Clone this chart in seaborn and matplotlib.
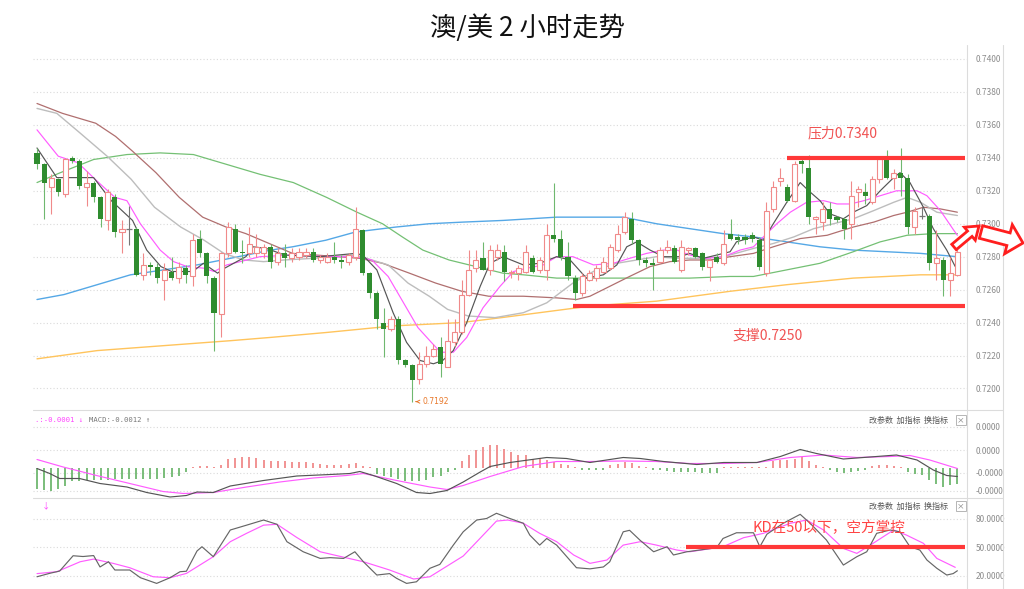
"""澳/美 2 小时走势 — K 线 + 均线 + MACD + KD，复刻截图。"""
import numpy as np
import matplotlib
matplotlib.use("Agg")
import matplotlib.pyplot as plt
import seaborn as sns
from matplotlib.lines import Line2D
from matplotlib.patches import FancyArrow
from matplotlib.transforms import IdentityTransform

PIP = 1e-4  # 价格单位：点

# --- K 线（点）---
open_p = [7343, 7336, 7322, 7327, 7318, 7340, 7338, 7322, 7325, 7316,
          7302, 7316, 7295, 7297, 7297, 7269, 7275, 7274, 7266, 7271,
          7267, 7273, 7268, 7291, 7282, 7267, 7245, 7282, 7297, 7283,
          7282, 7282, 7282, 7286, 7277, 7282, 7279, 7280, 7281, 7283,
          7278, 7277, 7280, 7278, 7277, 7280, 7296, 7270, 7258, 7240,
          7236, 7242, 7217, 7214, 7206, 7215, 7220, 7225, 7213, 7228,
          7234, 7257, 7273, 7279, 7272, 7280, 7283, 7270, 7270, 7271,
          7279, 7272, 7272, 7293, 7291, 7280, 7267, 7258, 7266, 7267,
          7271, 7273, 7284, 7295, 7303, 7290, 7278, 7276, 7277, 7284,
          7285, 7272, 7284, 7285, 7282, 7274, 7280, 7276, 7294, 7292,
          7292, 7293, 7290, 7270, 7309, 7326, 7322, 7314, 7338, 7334,
          7303, 7301, 7309, 7304, 7303, 7300, 7319, 7319, 7313, 7327,
          7340, 7328, 7331, 7328, 7298, 7305, 7305, 7276, 7278, 7266,
          7269]
high_p = [7346, 7337, 7330, 7328, 7340, 7341, 7339, 7332, 7326, 7317,
          7321, 7318, 7302, 7311, 7298, 7282, 7277, 7276, 7276, 7280,
          7277, 7275, 7294, 7296, 7283, 7268, 7283, 7301, 7300, 7290,
          7298, 7294, 7288, 7288, 7285, 7288, 7285, 7285, 7285, 7285,
          7281, 7282, 7289, 7281, 7282, 7310, 7297, 7271, 7259, 7249,
          7244, 7244, 7218, 7215, 7222, 7226, 7227, 7231, 7242, 7242,
          7266, 7284, 7284, 7289, 7287, 7288, 7287, 7272, 7275, 7287,
          7281, 7280, 7300, 7325, 7296, 7289, 7269, 7270, 7272, 7275,
          7280, 7288, 7299, 7307, 7307, 7291, 7280, 7279, 7286, 7290,
          7287, 7290, 7286, 7286, 7283, 7279, 7282, 7296, 7303, 7294,
          7294, 7295, 7292, 7313, 7326, 7334, 7324, 7338, 7339, 7342,
          7305, 7313, 7313, 7305, 7304, 7326, 7323, 7325, 7329, 7341,
          7345, 7333, 7346, 7330, 7310, 7310, 7306, 7296, 7280, 7280,
          7286]
low_p = [7333, 7303, 7306, 7317, 7316, 7337, 7321, 7311, 7313, 7298,
         7296, 7292, 7282, 7287, 7268, 7266, 7269, 7264, 7254, 7266,
         7264, 7264, 7262, 7280, 7264, 7223, 7231, 7280, 7282, 7276,
         7280, 7280, 7279, 7273, 7275, 7274, 7277, 7278, 7279, 7277,
         7276, 7276, 7276, 7273, 7275, 7278, 7269, 7255, 7236, 7219,
         7235, 7215, 7213, 7192, 7203, 7213, 7219, 7207, 7213, 7226,
         7233, 7256, 7271, 7272, 7269, 7278, 7265, 7267, 7266, 7270,
         7270, 7270, 7266, 7289, 7278, 7266, 7254, 7256, 7265, 7265,
         7270, 7272, 7283, 7294, 7288, 7275, 7274, 7260, 7276, 7282,
         7276, 7271, 7281, 7279, 7272, 7265, 7276, 7275, 7290, 7288,
         7288, 7289, 7272, 7268, 7307, 7323, 7313, 7313, 7331, 7300,
         7294, 7296, 7299, 7301, 7291, 7291, 7310, 7312, 7312, 7325,
         7327, 7321, 7317, 7294, 7294, 7303, 7272, 7266, 7256, 7256,
         7268]
close_p = [7336, 7325, 7328, 7319, 7339, 7338, 7323, 7325, 7316, 7303,
           7319, 7295, 7297, 7297, 7269, 7275, 7274, 7267, 7272, 7267,
           7274, 7269, 7290, 7282, 7268, 7246, 7282, 7298, 7283, 7282,
           7288, 7286, 7286, 7277, 7282, 7279, 7282, 7283, 7283, 7278,
           7280, 7280, 7278, 7277, 7281, 7297, 7270, 7258, 7242, 7236,
           7242, 7217, 7214, 7205, 7215, 7220, 7224, 7215, 7229, 7234,
           7257, 7272, 7278, 7272, 7284, 7284, 7271, 7271, 7273, 7283,
           7271, 7278, 7293, 7291, 7280, 7268, 7258, 7268, 7270, 7273,
           7277, 7286, 7294, 7304, 7290, 7278, 7276, 7275, 7284, 7286,
           7277, 7286, 7285, 7280, 7274, 7278, 7277, 7288, 7291, 7290,
           7290, 7291, 7274, 7308, 7322, 7328, 7314, 7336, 7336, 7304,
           7304, 7309, 7303, 7302, 7297, 7317, 7321, 7317, 7327, 7339,
           7328, 7331, 7328, 7298, 7308, 7305, 7276, 7279, 7266, 7270,
           7283]

# --- 均线（读图取样：K 线序号, 点）---
ma5_x = [0, 2.8, 8, 10.5, 13.5, 15.5, 17.5, 19, 22, 23.5, 25.5, 26.5, 29.5, 30.5, 32.4,
         35, 40, 45, 46, 48, 50.3, 52.2, 54.1, 56, 57.3, 58.8, 60.7, 62.6, 64, 65.8,
         68.7, 71, 73.4, 75.3, 77.6, 80, 81.9, 83.3, 84.7, 86.6, 88.5, 90.8, 92.2, 94.1,
         96, 97.9, 98.8, 101.2, 102.6, 104, 105.9, 107.8, 109, 110.6, 112, 113.9, 115.3,
         117.2, 119.1, 121, 121.9, 123.3, 125.2, 126.6, 128.5, 129.7]
ma5_v = [7346, 7328, 7328, 7314, 7302, 7284, 7274, 7271, 7271, 7276, 7270, 7273, 7280, 7286, 7285,
         7281, 7280, 7282, 7281, 7272, 7246, 7228, 7217, 7215, 7217, 7223, 7240, 7262, 7276, 7280,
         7275, 7276, 7280, 7278, 7267, 7269, 7275, 7286, 7289, 7284, 7280, 7280, 7282, 7279,
         7281, 7283, 7289, 7292, 7290, 7300, 7313, 7325, 7320, 7314, 7306, 7303, 7307,
         7311, 7320, 7328, 7331, 7325, 7310, 7297, 7284, 7274]
ma10_x = [0, 3, 5.8, 8.2, 11, 12.7, 14.6, 17.4, 19.3, 21.2, 23.6, 25, 26.8, 28.7, 31.5,
          36, 41, 45, 47.3, 49.6, 51.5, 53.8, 55.7, 57, 58.8, 60.7, 63, 65.4, 67.3, 69.2,
          71.5, 73.4, 75.7, 78.6, 81.4, 83.7, 86.1, 88.5, 90.4, 92.2, 94.6, 97, 99.3,
          101.2, 102.6, 104.5, 106.4, 108.7, 111.1, 113, 114.9, 116.8, 119.1, 121.4,
          124.3, 125.7, 127.6, 129.5, 130]
ma10_v = [7357, 7341, 7337, 7327, 7316, 7314, 7300, 7284, 7277, 7274, 7273, 7271, 7275, 7277, 7280,
          7281, 7280, 7280, 7278, 7268, 7254, 7237, 7228, 7222, 7222, 7231, 7249, 7262, 7271, 7273,
          7275, 7280, 7280, 7275, 7276, 7279, 7282, 7284, 7284, 7281, 7279, 7280, 7284,
          7286, 7292, 7300, 7307, 7313, 7314, 7312, 7312, 7314, 7317, 7320,
          7320, 7317, 7308, 7296, 7293]
ma20_x = [0, 2.8, 6.1, 9.9, 13.3, 16.6, 20.3, 23.6, 26.4, 29.2, 32, 34.9, 39.1, 45, 49.6,
          52.4, 55.4, 58, 60.9, 64.7, 68.7, 72, 75.7, 79, 81.9, 84.7, 87.5, 90.4, 93.2, 97,
          101.2, 104, 106.9, 109.7, 112.5, 115.3, 118.2, 121, 122.9, 124.8, 127.1, 130]
ma20_v = [7370, 7367, 7355, 7341, 7327, 7310, 7298, 7290, 7282, 7278, 7277, 7278, 7279, 7281, 7275,
          7264, 7256, 7248, 7244, 7243, 7246, 7252, 7264, 7272, 7276, 7278, 7280, 7279, 7279, 7280,
          7285, 7288, 7292, 7297, 7300, 7303, 7308, 7313, 7316, 7313, 7307, 7305]
ma30_x = [0, 3.6, 8.3, 11.1, 13.5, 16.8, 20.1, 23.4, 26.7, 29.5, 32.8, 36.1, 39.4, 45.6,
          48.8, 52.6, 56.3, 60, 63.8, 68.7, 73.4, 76.2, 78.1, 80.9, 83.7, 86.6, 89.4, 92.2,
          95.1, 97.9, 101.2, 104, 107.8, 111.6, 115.3, 118.2, 121, 122.9, 125.2, 127.6, 130]
ma30_v = [7373, 7367, 7361, 7353, 7344, 7331, 7316, 7304, 7298, 7294, 7288, 7282, 7281, 7279,
          7276, 7270, 7264, 7259, 7256, 7256, 7255, 7254, 7256, 7262, 7268, 7274, 7277, 7278,
          7278, 7280, 7282, 7286, 7291, 7293, 7298, 7301, 7305, 7307, 7310, 7309, 7307]
ma60_x = [0, 3.3, 8, 12.7, 17.4, 22.1, 26.8, 31.5, 36.2, 40.9, 45.2, 48.8, 51.6, 54.5, 58.2,
          62, 65.8, 68.7, 73.4, 82.8, 92.2, 97.9, 101.2, 105.9, 110.6, 115.3, 119.1, 122.9,
          126.6, 130]
ma60_v = [7325, 7331, 7339, 7342, 7343, 7342, 7336, 7330, 7325, 7316, 7307, 7300, 7292, 7284, 7278,
          7274, 7270, 7269, 7267, 7267, 7267, 7268, 7268, 7272, 7276, 7283, 7289, 7293,
          7294, 7294]
ma120_x = [0, 3.8, 8.5, 13.2, 17.9, 22.6, 27.3, 33, 36.1, 40.8, 45, 50.7, 55.4, 60.2, 65.8,
           73.4, 82.8, 87.5, 92.2, 96.9, 101.2, 105.9, 110.6, 115.3, 120, 124.8, 130]
ma120_v = [7254, 7257, 7263, 7269, 7272, 7275, 7279, 7284, 7286, 7290, 7295, 7298, 7300, 7301, 7302,
           7304, 7304, 7300, 7297, 7294, 7292, 7289, 7286, 7284, 7283, 7282, 7280]
ma250_x = [0, 8.5, 17.9, 27.3, 33, 40.9, 50.4, 59.9, 65.6, 78.1, 87.5, 97.9, 105.9, 115.3,
           124.8, 130]
ma250_v = [7218, 7223, 7226, 7229, 7231, 7234, 7238, 7240, 7243, 7250, 7253, 7259, 7263, 7267,
           7269, 7269]

# --- MACD（0.1 点单位，读图）---
macd_hist = [-4.1, -4.3, -4.5, -4.1, -3.5, -2.5, -2.5, -2.4, -2.3, -2.3,
             -2.3, -2.2, -2.2, -2.2, -2.2, -2.1, -2.1, -2.1, -2.0, -1.8,
             -1.5, -0.8, 0.3, 0.5, 0.5, 0.3, 0.7, 1.9, 2.0, 2.2,
             2.2, 2.0, 1.7, 1.5, 1.5, 1.5, 1.3, 1.3, 1.2, 1.0,
             0.9, 0.7, 0.7, 0.7, 0.9, 1.1, 0.4, 0.3, -1.1, -1.5,
             -1.8, -2.1, -2.5, -2.5, -2.5, -2.3, -1.8, -1.5, -0.7, -0.3,
             1.5, 2.7, 3.7, 4.2, 4.6, 4.6, 3.9, 3.3, 2.7, 2.6,
             1.9, 1.9, 1.6, 1.3, 0.9, 0.7, 0.3, -0.3, -0.3, -0.3,
             -0.3, 0.6, 0.9, 1.3, 1.1, 0.5, 0.3, -0.4, -0.3, -0.5,
             -0.7, -0.7, -0.7, -0.8, -0.9, -0.9, -0.9, 0.3, 0.3, 0.3,
             0.3, 0.3, 0.3, 0.3, 1.4, 1.6, 1.7, 1.9, 2.3, 1.4,
             0.6, 0.3, -0.3, -0.7, -0.9, -0.7, -0.5, -0.3, 0.5, 0.6,
             0.6, 0.5, 0.3, -0.7, -1.1, -1.4, -2.4, -3.1, -3.7, -3.4,
             -3.1]
dif_x = [0, 1.8, 3.2, 6, 8.9, 12.7, 15.5, 18.8, 21.1, 22.6, 24.9, 27.3, 32, 36.7, 41.4,
         44.2, 45.6, 47.5, 50.8, 53.6, 55.5, 57.9, 60.2, 62.6, 64, 66.8, 72, 74.8, 78.1,
         82.8, 85.2, 88.5, 93.2, 97, 101.7, 105, 107.8, 110.1, 113.9, 118.6, 121.4, 124.3,
         126.6, 128.5, 130]
dif_v = [-0.1, -1.1, -2.1, -2.1, -3.1, -3.8, -4.9, -5.8, -5.5, -4.8, -4.9, -3.6, -2.5, -1.6, -1.3,
         -1.1, -0.7, -1.5, -3.1, -4.9, -5.1, -4.5, -2.8, -0.8, 0.3, 1.1, 2.1, 1.9, 1.1,
         2.1, 1.9, 1.3, 0.7, 1.1, 1.1, 2.3, 3.7, 2.9, 1.8, 2.3, 2.6, 1.6,
         -0.4, -1.5, -1.7]
dea_x = [0, 3.7, 8.4, 13.1, 17.8, 20.7, 24.9, 29.6, 34.3, 39, 43.7, 46.1, 50.8, 55.5, 57.9,
         60.2, 64, 68.7, 73.4, 78.1, 82.8, 87.5, 92.2, 97, 101.7, 106.4, 111.1, 115.8,
         120.5, 123.3, 126.1, 130]
dea_v = [1.7, 0.2, -1.5, -3.1, -4.7, -5.1, -4.9, -3.8, -2.8, -2.0, -1.5, -1.1, -2.5, -3.8, -4.3,
         -3.5, -1.7, 0.3, 1.3, 1.3, 1.4, 1.3, 0.9, 0.9, 1.1, 2.1, 2.6, 2.1,
         2.3, 2.5, 1.6, -0.1]

# --- KD---
k_x = [0, 1.8, 3.2, 5.1, 6.5, 8, 8.9, 10.1, 11, 13.1, 14.6, 16.9, 18.8, 20.2, 21.1, 22.6,
       23.3, 24.9, 27.3, 29.6, 32, 33.9, 35.3, 37.6, 40, 41.4, 43.3, 44.9, 46.1, 48, 49.8,
       50.8, 52.2, 53.6, 55.5, 56.9, 58.8, 60.2, 62.1, 63.5, 64.9, 66.8, 68.7, 69.6, 71, 72,
       73.4, 76.2, 78.1, 80, 80.9, 82.8, 83.7, 85.2, 87.1, 89, 89.9, 91.8, 96, 96.9, 98.8,
       101.2, 102.1, 103.1, 105.4, 107.8, 109.2, 111.5, 113.9, 115.8, 117.2, 118.6, 120.5,
       121.9, 123.3, 124.7, 125.7, 127.1, 128.5, 129.4, 130]
k_v = [18.7, 22.3, 24.7, 40.8, 40, 41, 29, 34.5, 25.8, 25.8, 17.7, 11.7, 17.7, 24, 24.5, 45.8,
       50.3, 39.8, 67.9, 73, 78.4, 73.9, 55.6, 45, 38, 38.8, 38, 45, 34.5, 20.5, 22,
       17, 11.7, 13.4, 27.6, 31.7, 52, 66, 78.4, 80, 85.5, 80, 75, 62.6, 52, 59,
       52, 28.2, 27, 29, 34.5, 66, 67.6, 57, 45, 50.3, 41.6, 45, 49.3, 59, 65,
       65, 50.3, 63.5, 75, 84.4, 75, 57.4, 31, 39.8, 45, 64.4, 67.9,
       66, 50.3, 46.8, 36.3, 27.6, 20.5, 22, 25]
d_x = [0, 2.8, 6.1, 8, 10.8, 13.1, 16.4, 18.8, 21.1, 24.9, 27.3, 29.6, 32, 33.9, 36.7, 40,
       43.7, 46.1, 49.8, 53.2, 55.5, 60.2, 64.9, 66.5, 68.7, 71, 73.4, 75.8, 78.1, 80.5,
       82.8, 85.2, 87.5, 90.4, 92.2, 96.9, 99.8, 102.6, 106.4, 108.7, 111.1, 113.9, 115.8,
       118.1, 121, 122.8, 125.2, 127.1, 129.7]
d_v = [22, 24, 34.5, 37.3, 32.7, 28.2, 18.7, 17.7, 22.2, 39.8, 55.6, 64.4, 73, 73.9, 60, 45,
       38.6, 34.5, 25.8, 16.3, 18.7, 40.5, 77.3, 78.4, 75, 64.4, 55.6, 41.6, 32.8, 36.3,
       52, 55.6, 52, 46.8, 45, 50.3, 59.8, 64.4, 75, 78.4, 67.9, 48.5, 43.3,
       53.9, 67.9, 62.6, 53.9, 38, 28.6]

PRICE_TICKS = [0.7200, 0.7220, 0.7240, 0.7260, 0.7280, 0.7300, 0.7320, 0.7340, 0.7360, 0.7380, 0.7400]
MACD_TICKS = [8.2, 3.6, -1.0, -4.6]
MACD_LABELS = ["0.0000", "0.0000", "-0.0000", "-0.0000"]
KD_TICKS = [80, 50, 20]
KD_LABELS = ["80.0000", "50.0000", "20.0000"]
RESIST, SUPPORT, LOW_MARK = 0.7340, 0.7250, 0.7192

RED = "#f08a8a"
GREEN = "#2f8c2f"
GREEN_WICK = "#6fb86f"
LINE_RED = "#ff3838"
W, H = 1024, 589


def fx(px):
    return px / W


def fy(py):
    return 1 - py / H


def style_axis(ax, ticks, labels):
    for s in ax.spines.values():
        s.set_visible(False)
    ax.set_xticks([])
    ax.set_yticks(ticks)
    ax.set_yticklabels(labels)
    ax.yaxis.tick_right()
    ax.tick_params(axis="y", length=0, pad=6, labelsize=6, labelcolor="#8c8c8c")
    ax.grid(axis="y", color="#dadada", linestyle=(0, (1, 2)), lw=0.8)
    ax.set_xlabel("")
    ax.set_ylabel("")
    ax.set_xlim(-0.565, 131.36)


def linha(ax, xs, vs, cor, lw=0.85, escala=1.0):
    sns.lineplot(x=np.asarray(xs, float), y=np.asarray(vs, float) * escala, ax=ax,
                 color=cor, lw=lw, zorder=2, legend=False)


def main():
    sns.set_theme(style="white")
    plt.rcParams["font.family"] = ["Noto Sans CJK SC", "DejaVu Sans"]
    plt.rcParams["axes.unicode_minus"] = False

    fig = plt.figure(figsize=(W / 100, H / 100), dpi=100)
    ax = fig.add_axes([fx(33), fy(410), fx(934), 370 / H])
    ax2 = fig.add_axes([fx(33), fy(498), fx(934), 88 / H])
    ax3 = fig.add_axes([fx(33), 0, fx(934), 91 / H])

    # --- 主图 ---
    o = np.array(open_p) * PIP
    h = np.array(high_p) * PIP
    lo = np.array(low_p) * PIP
    c = np.array(close_p) * PIP
    idx = np.arange(len(c))
    up, dn, fl = c > o, c < o, c == o

    for xs, vs, cor, lw in [(ma250_x, ma250_v, "#ffc45c", 1.0), (ma120_x, ma120_v, "#55a8e6", 1.0),
                            (ma60_x, ma60_v, "#74c074", 0.9), (ma30_x, ma30_v, "#b06f6f", 0.9),
                            (ma20_x, ma20_v, "#bdbdbd", 1.0), (ma10_x, ma10_v, "#ff5cff", 0.85),
                            (ma5_x, ma5_v, "#555555", 0.85)]:
        linha(ax, xs, vs, cor, lw, PIP)

    ax.vlines(idx[up], lo[up], h[up], color=RED, lw=0.8, zorder=3)
    ax.vlines(idx[dn], lo[dn], h[dn], color=GREEN_WICK, lw=0.8, zorder=3)
    ax.vlines(idx[fl], lo[fl], h[fl], color="#777777", lw=0.8, zorder=3)
    ax.bar(idx[up], (c - o)[up], bottom=o[up], width=0.72, facecolor="white",
           edgecolor=RED, lw=0.8, zorder=4)
    ax.bar(idx[dn], (o - c)[dn], bottom=c[dn], width=0.72, color=GREEN, lw=0, zorder=4)
    ax.hlines(c[fl], idx[fl] - 0.36, idx[fl] + 0.36, color="#777777", lw=0.9, zorder=4)

    ax.hlines(RESIST, 105.9, 131.1, color=LINE_RED, lw=3, zorder=5)
    ax.hlines(SUPPORT, 75.7, 131.1, color=LINE_RED, lw=3, zorder=5)
    ax.text(108.9, 0.7355, "压力0.7340", color="#f05252", fontsize=10, va="center")
    ax.text(98.2, 0.7232, "支撑0.7250", color="#f05252", fontsize=10, va="center")
    i_low = int(np.argmin(lo))
    ax.annotate(f"{LOW_MARK:.4f}", xy=(i_low + 0.1, LOW_MARK), xytext=(i_low + 1.4, LOW_MARK),
                color="#e8782a", fontsize=5.5, va="center", family="DejaVu Sans",
                arrowprops=dict(arrowstyle="->", color="#e8782a", lw=0.7))
    style_axis(ax, PRICE_TICKS, [f"{t:.4f}" for t in PRICE_TICKS])
    ax.set_ylim(0.718694, 0.741153)

    # --- MACD ---
    hist = np.array(macd_hist)
    cores = [RED if v > 0 else GREEN_WICK for v in hist]
    ax2.vlines(idx, 0, hist, colors=cores, lw=1.3, zorder=2)
    linha(ax2, dea_x, dea_v, "#ff5cff")
    linha(ax2, dif_x, dif_v, "#555555")
    style_axis(ax2, MACD_TICKS, MACD_LABELS)
    ax2.set_ylim(-6.0, 11.6)
    ax2.text(0.002, 0.886, ".:-0.0001 ↓", transform=ax2.transAxes, color="#ff44ff",
             fontsize=5.2, family=["DejaVu Sans Mono", "DejaVu Sans"], va="center")
    ax2.text(0.060, 0.886, "MACD:-0.0012 ↑", transform=ax2.transAxes, color="#777777",
             fontsize=5.2, family=["DejaVu Sans Mono", "DejaVu Sans"], va="center")

    # --- KD ---
    linha(ax3, d_x, d_v, "#ff5cff")
    linha(ax3, k_x, k_v, "#666666")
    ax3.hlines(50, 91.7, 131.1, color=LINE_RED, lw=3, zorder=5)
    ax3.text(101.0, 70, "KD在50以下，空方掌控", color="#ff4444", fontsize=10.5, va="center", zorder=6)
    style_axis(ax3, KD_TICKS, KD_LABELS)
    ax3.set_ylim(5.8, 101.6)
    ax3.text(0.0096, 0.912, "↓", transform=ax3.transAxes, color="#ff44ff", fontsize=6, va="center")

    for a, yf in [(ax2, 0.886), (ax3, 0.912)]:
        a.text(0.98, yf, "改参数  加指标  换指标", transform=a.transAxes, ha="right",
               va="center", fontsize=5.8, color="#555555")
        a.text(0.9935, yf, "×", transform=a.transAxes, ha="center", va="center",
               fontsize=5.5, color="#777777",
               bbox=dict(boxstyle="square,pad=0.15", fc="white", ec="#aaaaaa", lw=0.6))

    # --- 框线 / 标题 / 箭头 ---
    for x0, y0, x1, y1 in [(967, 45, 967, 589), (1003, 45, 1003, 589),
                           (33, 410, 1003, 410), (33, 498, 1003, 498)]:
        fig.add_artist(Line2D([fx(x0), fx(x1)], [fy(y0), fy(y1)], transform=fig.transFigure,
                              color="#dcdcdc", lw=0.8))
    fig.text(fx(527), fy(28), "澳/美 2 小时走势", ha="center", va="center", fontsize=19,
             color="#111111")
    for (x0, y0, dx, dy, w, hw, hl) in [(954, 247, 25, -21, 7, 17, 12),
                                        (981, 232, 42, 11, 13, 30, 15)]:
        fig.add_artist(FancyArrow(x0, H - y0, dx, -dy, width=w, head_width=hw, head_length=hl,
                                  length_includes_head=True, facecolor="white",
                                  edgecolor="#ff1e1e", lw=2, transform=IdentityTransform(),
                                  zorder=10))

    fig.savefig("out.png", dpi=100)
    plt.close(fig)


if __name__ == "__main__":
    main()
